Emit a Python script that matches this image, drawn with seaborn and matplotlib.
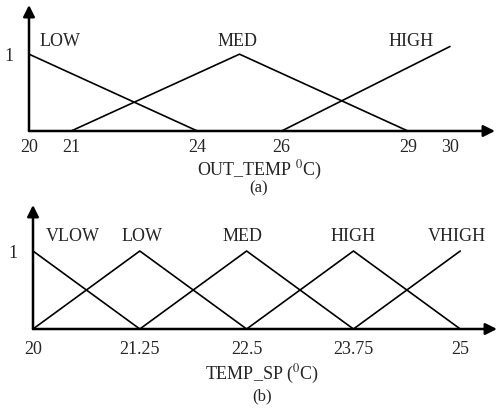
from matplotlib import pyplot as plt
import pandas as pd
import seaborn as sns

# Data for the two membership function plots

# (a) OUT_TEMP
out_ticks = [20, 21, 24, 26, 29, 30]
out_low_x = [20, 24]
out_low_y = [1, 0]
out_med_x = [21, 25, 29]
out_med_y = [0, 1, 0]
out_high_x = [26, 30]
out_high_y = [0, 1.1]

# (b) TEMP_SP
sp_ticks = [20, 21.25, 22.5, 23.75, 25]
sp_vlow_x = [20, 21.25]
sp_vlow_y = [1, 0]
sp_low_x = [20, 21.25, 22.5]
sp_low_y = [0, 1, 0]
sp_med_x = [21.25, 22.5, 23.75]
sp_med_y = [0, 1, 0]
sp_high_x = [22.5, 23.75, 25]
sp_high_y = [0, 1, 0]
sp_vhigh_x = [23.75, 25]
sp_vhigh_y = [0, 1]

sns.set_style("white")
plt.rcParams['font.family'] = ['Liberation Serif', 'DejaVu Serif']
plt.rcParams['mathtext.fontset'] = 'stix'

fig = plt.figure(figsize=(4.97, 4.08), dpi=100)


def draw_axes(ax, ticks, pad):
    for s in ax.spines.values():
        s.set_visible(False)
    # axis arrows
    arrow = dict(arrowstyle='-|>', color='black', lw=1.8, mutation_scale=17,
                 shrinkA=0, shrinkB=0)
    ax.annotate('', xy=(1, 0), xytext=(0, 0), xycoords='axes fraction', arrowprops=arrow)
    ax.annotate('', xy=(0, 1), xytext=(0, 0), xycoords='axes fraction', arrowprops=arrow)
    ax.set_xticks(ticks)
    ax.set_xticklabels([f"{t:g}" for t in ticks])
    ax.set_yticks([1])
    ax.set_yticklabels(["1"])
    ax.tick_params(axis='x', length=0, pad=pad, labelsize=13)
    ax.tick_params(axis='y', length=0, pad=11, labelsize=13)
    ax.set_xlabel("")
    ax.set_ylabel("")


# (a)
ax1 = fig.add_axes([29 / 497, 1 - 131 / 408, 466 / 497, 126 / 408])
for xs, ys in [(out_low_x, out_low_y), (out_med_x, out_med_y), (out_high_x, out_high_y)]:
    sns.lineplot(x=xs, y=ys, ax=ax1, color='black', lw=1.2, sort=False, estimator=None)
ax1.set_xlim(20, 31.07)
ax1.set_ylim(0, 1.64)
draw_axes(ax1, out_ticks, 6)
ax1.text(20.74, 1.16, "LOW", ha='center', va='center', fontsize=13)
ax1.text(24.96, 1.16, "MED", ha='center', va='center', fontsize=13)
ax1.text(29.07, 1.16, "HIGH", ha='center', va='center', fontsize=13)

# (b)
ax2 = fig.add_axes([33 / 497, 1 - 329 / 408, 464 / 497, 124 / 408])
for xs, ys in [(sp_vlow_x, sp_vlow_y), (sp_low_x, sp_low_y), (sp_med_x, sp_med_y),
               (sp_high_x, sp_high_y), (sp_vhigh_x, sp_vhigh_y)]:
    sns.lineplot(x=xs, y=ys, ax=ax2, color='black', lw=1.2, sort=False, estimator=None)
ax2.set_xlim(20, 25.43)
ax2.set_ylim(0, 1.59)
draw_axes(ax2, sp_ticks, 9)
ax2.text(20.46, 1.19, "VLOW", ha='center', va='center', fontsize=13)
ax2.text(21.28, 1.19, "LOW", ha='center', va='center', fontsize=13)
ax2.text(22.45, 1.19, "MED", ha='center', va='center', fontsize=13)
ax2.text(23.74, 1.19, "HIGH", ha='center', va='center', fontsize=13)
ax2.text(24.96, 1.19, "VHIGH", ha='center', va='center', fontsize=13)

# captions
fig.text(260 / 497, 1 - 170 / 408, r"OUT_TEMP $^{0}$C)", ha='center', va='center', fontsize=13)
fig.text(259 / 497, 1 - 188 / 408, "(a)", ha='center', va='center', fontsize=12)
fig.text(262 / 497, 1 - 374 / 408, r"TEMP_SP ($^{0}$C)", ha='center', va='center', fontsize=13)
fig.text(262 / 497, 1 - 396 / 408, "(b)", ha='center', va='center', fontsize=12)

plt.savefig("out.png", dpi=100)
